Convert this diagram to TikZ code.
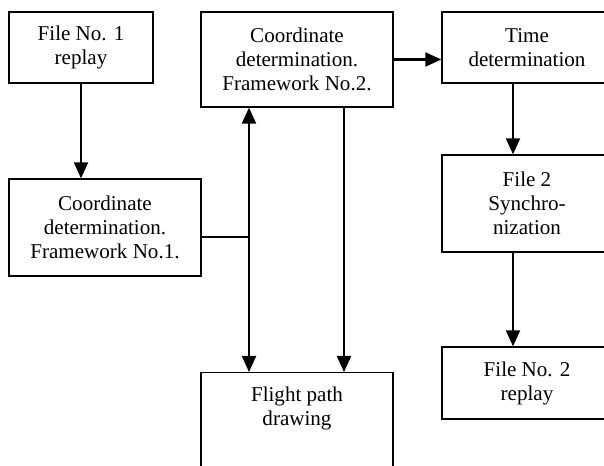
\documentclass[tikz,border=0pt]{standalone}
\usepackage{fontspec}
\setmainfont{Liberation Serif}
\newfontfamily\boxfont{Liberation Serif}
\usetikzlibrary{arrows.meta, positioning}

\begin{document}
\begin{tikzpicture}[x=0.75pt,y=-0.75pt,>={Triangle[length=12pt,width=10.5pt]},
      box/.style={draw,line width=1pt,align=center,inner sep=0pt,
        font=\boxfont\fontsize{15.8}{18}\selectfont},
      flow/.style={->,line width=1.6pt}]
      \useasboundingbox (0,0) rectangle (604,466);
      \clip (0,0) rectangle (604,466);
      % left column
      \node[box, minimum width=108pt, minimum height=53.25pt] (replay1) at (81,47.5) {File No. 1\\replay};
      \node[box, minimum width=144pt, minimum height=72.75pt] (coord1) at (105,227.5) {Coordinate\\determination.\\Framework No.1.};
      % middle column
      \node[box, minimum width=144pt, minimum height=71.25pt] (coord2) at (297,59.5) {Coordinate\\determination.\\Framework No.2.};
      \node[box, minimum width=144pt, minimum height=90pt, anchor=north] (flight) at (297,372) {};
      \node[box, draw=none] (flighttext) at (297,408) {Flight path\\drawing};
      % right column
      \node[box, minimum width=127.5pt, minimum height=53.25pt] (time) at (527,47.5) {Time\\determination};
      \node[box, minimum width=127.5pt, minimum height=72.75pt] (sync) at (527,203.5) {File 2\\Synchro-\\nization};
      \node[box, minimum width=127.5pt, minimum height=54pt] (replay2) at (527,383) {File No. 2\\replay};
      \coordinate (join) at (249,237);
      % connectors
      \draw[flow] (replay1.south) -- (replay1.south |- coord1.north);
      \draw[flow] (coord2.east) -- (coord2.east -| time.west);
      \draw[flow] (time.south -| 513,0) -- (sync.north -| 513,0);
      \draw[flow] (sync.south -| 513,0) -- (replay2.north -| 513,0);
      \draw[flow,<->] (coord2.south -| join) -- (flight.north -| join);
      \draw[line width=1pt] (coord1.east |- join) -- (join);
      \draw[flow] (coord2.south -| 344,0) -- (flight.north -| 344,0);
    \end{tikzpicture}
\end{document}
